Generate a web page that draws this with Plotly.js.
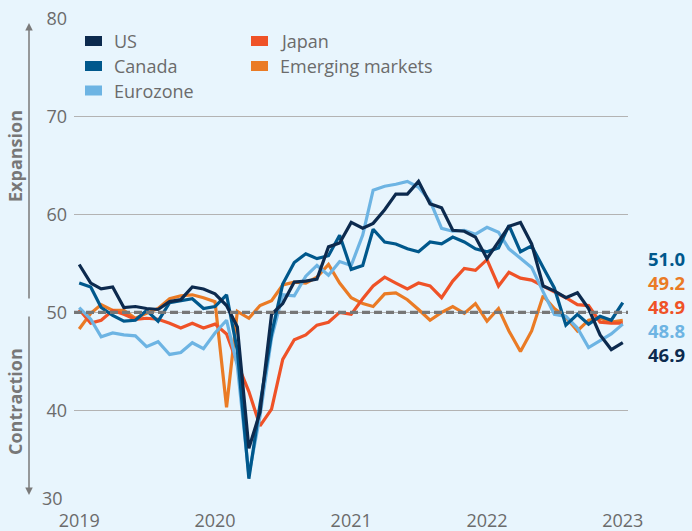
<!DOCTYPE html>
<html>
<head>
<meta charset="utf-8">
<script src="https://cdn.plot.ly/plotly-3.0.1.min.js"></script>
<style>
  html, body { margin: 0; padding: 0; background: #E8F5FD; }
  #chart { width: 692px; height: 531px; }
</style>
</head>
<body>
<div id="chart"></div>
<script>
// ---- Data (monthly PMI, Jan 2019 – Jan 2023) ----
const seriesNames = ["US", "Canada", "Eurozone", "Japan", "Emerging markets"];

const us = [54.9,53.0,52.4,52.6,50.5,50.6,50.4,50.3,51.1,51.3,52.6,52.4,
            51.9,50.7,48.5,36.1,39.8,49.8,50.9,53.1,53.2,53.4,56.7,57.1,
            59.2,58.6,59.1,60.5,62.1,62.1,63.4,61.1,60.7,58.4,58.3,57.7,
            55.5,57.3,58.8,59.2,57.0,52.7,52.2,51.5,52.0,50.4,47.7,46.2,
            46.9];
const canada = [53.0,52.6,50.5,49.7,49.1,49.2,50.2,49.1,51.0,51.2,51.4,50.4,
                50.6,51.8,46.1,33.0,40.6,47.8,52.9,55.1,56.0,55.5,55.8,57.9,
                54.4,54.8,58.5,57.2,57.0,56.5,56.2,57.2,57.0,57.7,57.2,56.5,
                56.2,56.6,58.9,56.2,56.8,54.6,52.5,48.7,49.8,48.8,49.6,49.2,
                51.0];
const eurozone = [50.5,49.3,47.5,47.9,47.7,47.6,46.5,47.0,45.7,45.9,46.9,46.3,
                  47.9,49.2,44.5,33.4,39.4,47.4,51.8,51.7,53.7,54.8,53.8,55.2,
                  54.8,57.9,62.5,62.9,63.1,63.4,62.8,61.4,58.6,58.3,58.4,58.0,
                  58.7,58.2,56.5,55.5,54.6,52.1,49.8,49.6,48.4,46.4,47.1,47.8,
                  48.8];
const japan = [50.3,48.9,49.2,50.2,49.8,49.3,49.4,49.3,48.9,48.4,48.9,48.4,
               48.8,47.8,44.8,41.9,38.4,40.1,45.2,47.2,47.7,48.7,49.0,50.0,
               49.8,51.4,52.7,53.6,53.0,52.4,53.0,52.7,51.5,53.2,54.5,54.3,
               55.4,52.7,54.1,53.5,53.3,52.7,52.1,51.5,50.8,50.7,49.0,48.9,
               48.9];
const emerging = [48.3,49.9,50.8,50.2,50.2,49.4,49.9,50.4,51.4,51.7,51.8,51.5,
                  51.1,40.3,50.1,49.4,50.7,51.2,52.8,53.1,53.0,53.6,54.9,53.0,
                  51.5,50.9,50.6,51.9,52.0,51.3,50.3,49.2,50.0,50.6,49.9,50.9,
                  49.1,50.4,48.1,46.0,48.1,51.7,50.4,49.5,48.1,49.2,49.4,49.0,
                  49.2];

const startYear = 2019;
const yearTicks = ["2019", "2020", "2021", "2022", "2023"];
const yTicks = [30, 40, 50, 60, 70, 80];
const threshold = 50;

// month dates
const months = [];
for (let i = 0; i < us.length; i++) {
  const y = startYear + Math.floor(i / 12);
  const m = (i % 12) + 1;
  months.push(y + "-" + String(m).padStart(2, "0") + "-01");
}

// ---- Styles ----
const colors = {
  "US": "#0C2A4E",
  "Canada": "#00588C",
  "Eurozone": "#6DB4E3",
  "Japan": "#EF5227",
  "Emerging markets": "#EA7B25"
};
const values = {
  "US": us, "Canada": canada, "Eurozone": eurozone,
  "Japan": japan, "Emerging markets": emerging
};
const drawOrder = ["Emerging markets", "Japan", "Eurozone", "Canada", "US"];

const traces = drawOrder.map(name => ({
  type: "scatter",
  mode: "lines",
  name: name,
  x: months,
  y: values[name],
  line: { color: colors[name], width: 3.2 },
  showlegend: false,
  hoverinfo: "x+y+name"
}));

// ---- Layout helpers (pixel -> paper) ----
const W = 692, H = 531;
const M = { l: 74, r: 64, t: 19, b: 23 };
const pw = W - M.l - M.r, ph = H - M.t - M.b;
const px = x => (x - M.l) / pw;
const py = y => (H - M.b - y) / ph;

const FONT = "Open Sans, Noto Sans, sans-serif";
const grey = "#6b6b6b";

const shapes = [
  {
    type: "line", xref: "paper", x0: 0, x1: 1, yref: "y", y0: threshold, y1: threshold,
    line: { color: "#777777", width: 3.4, dash: "8px,4px" }, layer: "above"
  }
];
const annotations = [];

// lowest y tick label, lifted above the year labels as in the source
annotations.push({
  xref: "paper", yref: "paper", x: px(65), y: py(498),
  xanchor: "right", yanchor: "middle", showarrow: false,
  text: String(yTicks[0]), font: { family: FONT, size: 18, color: grey }
});

// legend (two columns, square swatches)
const legendItems = [
  { name: "US", col: 0, row: 0 },
  { name: "Canada", col: 0, row: 1 },
  { name: "Eurozone", col: 0, row: 2 },
  { name: "Japan", col: 1, row: 0 },
  { name: "Emerging markets", col: 1, row: 1 }
];
const colX = [85, 251], rowY = [41, 66, 90.5];
legendItems.forEach(it => {
  const sx = colX[it.col], sy = rowY[it.row];
  shapes.push({
    type: "rect", xref: "paper", yref: "paper",
    x0: px(sx), x1: px(sx + 17), y0: py(sy - 5), y1: py(sy + 5),
    fillcolor: colors[it.name], line: { width: 0 }
  });
  annotations.push({
    xref: "paper", yref: "paper", x: px(sx + 27), y: py(sy),
    xanchor: "left", yanchor: "middle", showarrow: false,
    text: it.name, font: { family: FONT, size: 18, color: grey }
  });
});

// end-value labels: one stacked block, each line in its series colour
const endOrder = ["Canada", "Emerging markets", "Japan", "Eurozone", "US"];
const endText = endOrder.map(n => {
  const arr = values[n];
  return '<span style="color:' + colors[n] + '">' + arr[arr.length - 1].toFixed(1) + '</span>';
}).join("<br>");
annotations.push({
  xref: "paper", yref: "paper", x: px(647), y: py(306.5),
  xanchor: "left", yanchor: "middle", align: "left", showarrow: false,
  text: endText, borderpad: 0,
  font: { family: FONT, size: 18.5, color: "#333", weight: 700 }
});

// expansion / contraction arrows and labels
const arrowX = px(29);
annotations.push({
  xref: "paper", yref: "paper", x: arrowX, y: py(23),
  ax: 0, ay: 277, axref: "pixel", ayref: "pixel",
  showarrow: true, arrowhead: 2, arrowsize: 1, arrowwidth: 1.5, arrowcolor: "#7a7a7a",
  text: "", standoff: 0
});
annotations.push({
  xref: "paper", yref: "paper", x: arrowX, y: py(495),
  ax: 0, ay: -180, axref: "pixel", ayref: "pixel",
  showarrow: true, arrowhead: 2, arrowsize: 1, arrowwidth: 1.5, arrowcolor: "#7a7a7a",
  text: "", standoff: 0
});
annotations.push({
  xref: "paper", yref: "paper", x: px(15), y: py(156),
  xanchor: "center", yanchor: "middle", showarrow: false, textangle: -90,
  text: "Expansion", font: { family: FONT, size: 18, color: "#777777", weight: 700 }
});
annotations.push({
  xref: "paper", yref: "paper", x: px(15), y: py(402),
  xanchor: "center", yanchor: "middle", showarrow: false, textangle: -90,
  text: "Contraction", font: { family: FONT, size: 18, color: "#777777", weight: 700 }
});

const layout = {
  width: W, height: H,
  margin: M,
  paper_bgcolor: "#E8F5FD",
  plot_bgcolor: "#E8F5FD",
  showlegend: false,
  font: { family: FONT, color: grey },
  xaxis: {
    type: "date",
    range: ["2018-12-18", "2023-01-15"],
    tickvals: yearTicks.map(y => y + "-01-01"),
    ticktext: yearTicks,
    showgrid: false, zeroline: false, showline: false, ticks: "",
    tickfont: { family: FONT, size: 18, color: grey }
  },
  yaxis: {
    range: [30, 80],
    tickvals: yTicks,
    ticktext: yTicks.map((v, i) => i === 0 ? "" : String(v)),
    showgrid: true, gridcolor: "#b3b3b3", gridwidth: 1,
    zeroline: false, showline: false, ticks: "",
    ticklabelstandoff: 6,
    tickfont: { family: FONT, size: 18, color: grey }
  },
  shapes: shapes,
  annotations: annotations
};

Plotly.newPlot("chart", traces, layout, { displayModeBar: false, staticPlot: true });
</script>
</body>
</html>
